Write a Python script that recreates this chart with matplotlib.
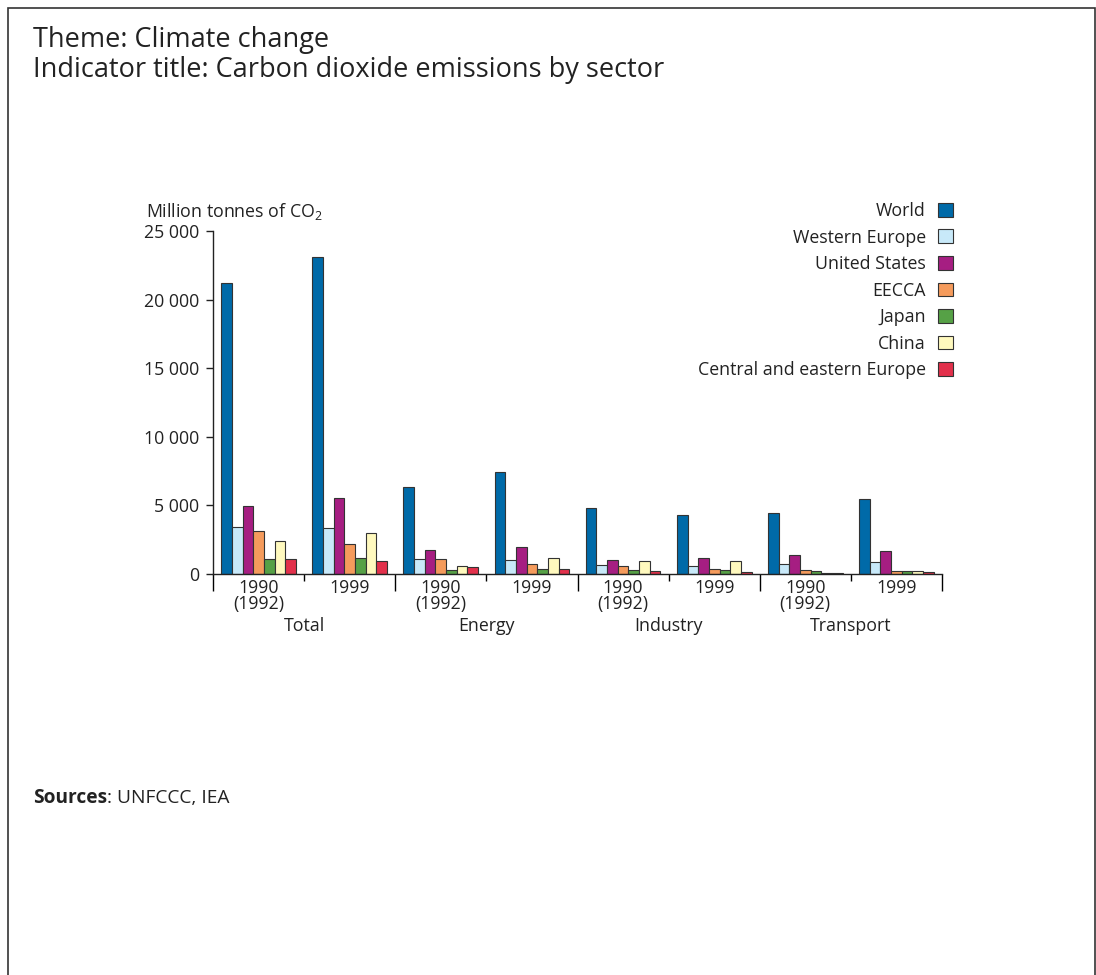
import matplotlib.pyplot as plt
from matplotlib.patches import Rectangle
import numpy as np

plt.rcParams['font.family'] = ['Open Sans', 'DejaVu Sans']
plt.rcParams['mathtext.default'] = 'regular'

# data (million tonnes of CO2)
sectors = ["Total", "Energy", "Industry", "Transport"]
years = ["1990\n(1992)", "1999"]
regions = ["World", "Western Europe", "United States", "EECCA", "Japan", "China",
           "Central and eastern Europe"]
colors = ["#006aa8", "#c8e9f9", "#a61e82", "#f59b5c", "#56a146", "#fff9be", "#e2304b"]

# one list per region: Total 1990, Total 1999, Energy 1990, Energy 1999, Industry ..., Transport ...
world    = [21200, 23100, 6350, 7400, 4780, 4280, 4430, 5470]
w_europe = [3400, 3330, 1120, 1020, 660, 560, 710, 850]
us       = [4920, 5570, 1750, 1970, 1020, 1170, 1410, 1650]
eecca    = [3170, 2210, 1110, 710, 560, 390, 290, 190]
japan    = [1090, 1190, 290, 400, 290, 320, 220, 190]
china    = [2370, 2990, 560, 1190, 920, 920, 70, 220]
cee      = [1090, 930, 490, 390, 220, 150, 70, 150]
series = [world, w_europe, us, eecca, japan, china, cee]

fig = plt.figure(figsize=(10.96, 9.75), dpi=100)
W, H = 1096, 975
txt = "#222222"
fs = 12.8

# outer frame
fig.patches.append(Rectangle((8 / W, -0.02), (1095 - 8) / W, 1.02 - 8 / H,
                             transform=fig.transFigure, fill=False,
                             edgecolor="#333333", linewidth=1.2))

fig.text(33 / W, 1 - 47 / H, "Theme: Climate change", fontsize=19.5,
         color=txt, va="baseline")
fig.text(33 / W, 1 - 77 / H, "Indicator title: Carbon dioxide emissions by sector",
         fontsize=19.5, color=txt, va="baseline")

ax = fig.add_axes([213 / W, 1 - 574 / H, (942 - 213) / W, (574 - 231) / H])

n = len(series)
bw = 0.117
slots = np.arange(len(world)) + 0.5
for k, (vals, col) in enumerate(zip(series, colors)):
    xs = slots - bw * n / 2 + bw * (k + 0.5)
    ax.bar(xs, vals, width=bw, color=col, edgecolor="#333333", linewidth=0.8,
           label=regions[k], zorder=2)

ax.set_xlim(0, len(world))
ax.set_ylim(0, 25000)
ax.set_yticks(np.arange(0, 25001, 5000))
ax.set_yticklabels([f"{int(v):,}".replace(",", " ") for v in np.arange(0, 25001, 5000)])
ax.tick_params(axis="y", direction="out", length=5, width=1, labelsize=fs,
               colors=txt, pad=5)

ax.set_xticks(np.arange(0, len(world) + 1, 2))
ax.set_xticks(np.arange(1, len(world), 2), minor=True)
ax.set_xticklabels([])
ax.tick_params(axis="x", which="major", direction="out", length=12, width=1)
ax.tick_params(axis="x", which="minor", direction="out", length=5, width=1)

for s in ["top", "right"]:
    ax.spines[s].set_visible(False)
for s in ["left", "bottom"]:
    ax.spines[s].set_color(txt)
    ax.spines[s].set_linewidth(1)

trans = ax.get_xaxis_transform()
for i, x in enumerate(slots):
    ax.text(x, -0.015, years[i % 2], transform=trans, ha="center", va="top",
            fontsize=fs, color=txt, linespacing=0.83)
for j, name in enumerate(sectors):
    ax.text(2 * j + 1, -0.125, name, transform=trans, ha="center", va="top",
            fontsize=fs, color=txt)

fig.text(146 / W, 1 - 217 / H, "Million tonnes of CO$_2$", fontsize=fs,
         color=txt, va="baseline")

ax.legend(loc="upper right", bbox_to_anchor=(953 / W, 1 - 202 / H),
          bbox_transform=fig.transFigure, frameon=False, markerfirst=False,
          fontsize=fs, handlelength=0.82, handleheight=0.82, handletextpad=0.7,
          labelspacing=0.48, borderpad=0, borderaxespad=0,
          labelcolor=txt)

t1 = fig.text(33 / W, 1 - 803 / H, "Sources", fontsize=13.8, fontweight="bold",
              color=txt, va="baseline")
fig.canvas.draw()
bb = t1.get_window_extent()
fig.text(bb.x1 / W, 1 - 803 / H, ": UNFCCC, IEA", fontsize=13.8, color=txt,
         va="baseline")

fig.savefig("out.png", dpi=100)
